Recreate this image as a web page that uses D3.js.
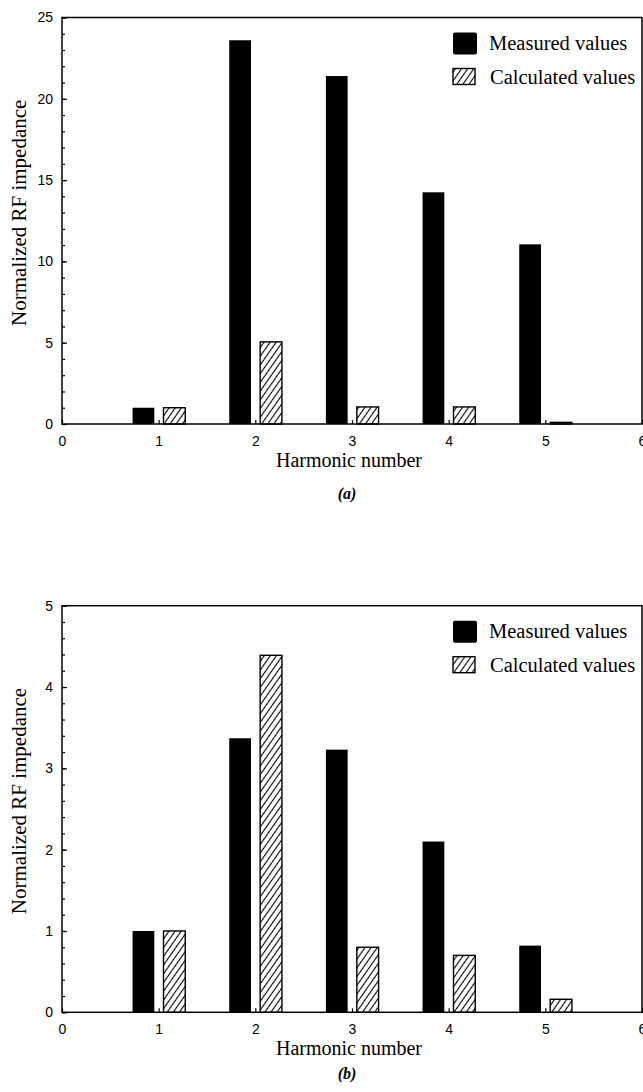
<!DOCTYPE html>
<html>
<head>
<meta charset="utf-8">
<script src="https://cdn.jsdelivr.net/npm/d3@7"></script>
<style>
  body { margin: 0; background: #fff; }
</style>
</head>
<body>
<div id="chart"></div>
<script>
// harmonic numbers (x categories)
const harmonics = [1, 2, 3, 4, 5];

// panel (a) values
const measuredA = [1.0, 23.6, 21.4, 14.25, 11.05];
const calculatedA = [1.0, 5.05, 1.05, 1.05, 0.1];

// panel (b) values
const measuredB = [1.0, 3.37, 3.23, 2.1, 0.82];
const calculatedB = [1.0, 4.39, 0.8, 0.7, 0.16];

// axis ticks
const xTicks = [0, 1, 2, 3, 4, 5, 6];
const yTicksA = [0, 5, 10, 15, 20, 25];
const yTicksB = [0, 1, 2, 3, 4, 5];

const legendLabels = ["Measured values", "Calculated values"];
const panelLabels = ["(a)", "(b)"];

const width = 643, height = 1092;
const svg = d3.select("#chart").append("svg")
  .attr("width", width)
  .attr("height", height)
  .style("background", "#fff");

// hatch pattern for calculated bars
const defs = svg.append("defs");
defs.append("pattern")
  .attr("id", "hatch")
  .attr("patternUnits", "userSpaceOnUse")
  .attr("width", 5).attr("height", 5)
  .attr("patternTransform", "rotate(35)")
  .call(p => {
    p.append("rect").attr("width", 5).attr("height", 5).attr("fill", "#fff");
    p.append("line").attr("x1", 2.5).attr("y1", 0).attr("x2", 2.5).attr("y2", 5)
      .attr("stroke", "#000").attr("stroke-width", 1.1);
  });

const panels = [
  { top: 17.5, bottom: 424, max: 25, ticks: yTicksA, minor: 1, measured: measuredA, calculated: calculatedA, label: panelLabels[0], labelY: 498.5 },
  { top: 605.7, bottom: 1012.3, max: 5, ticks: yTicksB, minor: 0.2, measured: measuredB, calculated: calculatedB, label: panelLabels[1], labelY: 1079 }
];

const left = 62, right = 642;
const serif = "'Liberation Serif', 'Times New Roman', serif";
const sans = "'Liberation Sans', Arial, sans-serif";
const intFmt = d3.format("d");

panels.forEach(p => {
  const x = d3.scaleLinear().domain([0, 6]).range([left, right]);
  const y = d3.scaleLinear().domain([0, p.max]).range([p.bottom, p.top]);
  const g = svg.append("g");

  // bars
  const rows = harmonics.map((h, i) => ({ h, m: p.measured[i], c: p.calculated[i] }));
  g.selectAll(".meas").data(rows).enter().append("rect")
    .attr("x", d => x(d.h - 0.27))
    .attr("width", d => x(d.h - 0.045) - x(d.h - 0.27))
    .attr("y", d => y(d.m))
    .attr("height", d => y(0) - y(d.m))
    .attr("fill", "#000");

  g.selectAll(".calc").data(rows).enter().append("rect")
    .attr("x", d => x(d.h + 0.05))
    .attr("width", d => x(d.h + 0.275) - x(d.h + 0.05))
    .attr("y", d => y(d.c))
    .attr("height", d => y(0) - y(d.c))
    .attr("fill", "url(#hatch)")
    .attr("stroke", "#000")
    .attr("stroke-width", 1.4);

  // minor y ticks
  const minorTicks = d3.range(0, p.max + p.minor / 2, p.minor);
  g.append("g")
    .attr("transform", `translate(${left},0)`)
    .call(d3.axisLeft(y).tickValues(minorTicks).tickSize(-3).tickFormat(""))
    .call(a => a.select(".domain").remove())
    .selectAll("line").attr("stroke-width", 1.2);

  // major y ticks
  g.append("g")
    .attr("transform", `translate(${left},0)`)
    .call(d3.axisLeft(y).tickValues(p.ticks).tickFormat(intFmt).tickSize(-5).tickPadding(9))
    .call(a => a.select(".domain").remove())
    .call(a => a.selectAll("line").attr("stroke-width", 1.2))
    .selectAll("text")
      .attr("font-family", sans)
      .attr("font-size", 14)
      .attr("fill", "#000");

  // x ticks
  g.append("g")
    .attr("transform", `translate(0,${p.bottom})`)
    .call(d3.axisBottom(x).tickValues(xTicks).tickFormat(intFmt).tickSize(-4).tickPadding(12))
    .call(a => a.select(".domain").remove())
    .call(a => a.selectAll("line").attr("stroke-width", 1.2))
    .selectAll("text")
      .attr("font-family", sans)
      .attr("font-size", 14)
      .attr("fill", "#000");

  // frame
  g.append("rect")
    .attr("x", left).attr("y", p.top)
    .attr("width", right - left).attr("height", p.bottom - p.top)
    .attr("fill", "none")
    .attr("stroke", "#000")
    .attr("stroke-width", 1.5);

  // axis titles
  g.append("text")
    .attr("transform", `translate(19,${(p.top + p.bottom) / 2 - 8}) rotate(-90)`)
    .attr("text-anchor", "middle")
    .attr("dy", "0.35em")
    .attr("font-family", serif)
    .attr("font-size", 21)
    .text("Normalized RF impedance");

  g.append("text")
    .attr("x", 349).attr("y", p.bottom + 42.5)
    .attr("text-anchor", "middle")
    .attr("font-family", serif)
    .attr("font-size", 20)
    .text("Harmonic number");

  g.append("text")
    .attr("x", 347).attr("y", p.labelY)
    .attr("text-anchor", "middle")
    .attr("font-family", serif)
    .attr("font-size", 16)
    .attr("font-weight", "bold")
    .attr("font-style", "italic")
    .text(p.label);

  // legend
  const lg = g.append("g");
  lg.append("rect")
    .attr("x", 453).attr("y", p.top + 15)
    .attr("width", 24).attr("height", 22)
    .attr("rx", 2)
    .attr("fill", "#000");
  lg.append("rect")
    .attr("x", 453).attr("y", p.top + 51)
    .attr("width", 22).attr("height", 16)
    .attr("fill", "url(#hatch)")
    .attr("stroke", "#000")
    .attr("stroke-width", 1.4);
  lg.append("text")
    .attr("x", 489).attr("y", p.top + 32)
    .attr("font-family", serif)
    .attr("font-size", 20.5)
    .text(legendLabels[0]);
  lg.append("text")
    .attr("x", 490).attr("y", p.top + 66.5)
    .attr("font-family", serif)
    .attr("font-size", 20.5)
    .text(legendLabels[1]);
});
</script>
</body>
</html>
